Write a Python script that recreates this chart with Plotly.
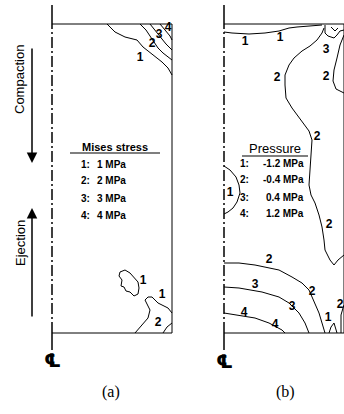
import plotly.graph_objects as go

FIG_W, FIG_H = 344, 414

# cavity dimensions (model units)
CAVITY_R = 120
CAVITY_H = 309
AXIS_EXT = [-17, 328]

# ---------------- Panel (a): Mises stress contours (r, z) ----------------
A1_TOP_R = [55, 63, 73, 85, 91, 101, 110, 116, 120]
A1_TOP_Z = [309, 301, 296, 293, 286, 278, 271, 265, 258]
A2_TOP_R = [88, 94, 98, 106, 111, 116, 120]
A2_TOP_Z = [309, 303, 297, 285, 280, 276, 273]
A3_TOP_R = [98, 103, 109, 114, 120]
A3_TOP_Z = [309, 303, 295, 289, 283]
A4_TOP_R = [108, 113, 118, 120]
A4_TOP_Z = [309, 303, 297, 293]
A1_ISL_R = [68, 73, 78, 82, 86, 87, 86, 82, 78, 74, 72, 69, 70, 67, 68]
A1_ISL_Z = [61, 63, 60, 55, 51, 45, 39, 37, 41, 42, 46, 47, 53, 57, 61]
A1_BOT_R = [83, 90, 96, 98, 95, 93, 96, 100, 103, 106, 110, 116, 120]
A1_BOT_Z = [0, 8, 15, 23, 29, 33, 36, 36, 33, 30, 28, 25, 20]
A2_BOT_R = [111, 115, 120]
A2_BOT_Z = [0, 6, 10]
A_LINES = [(A1_TOP_R, A1_TOP_Z), (A2_TOP_R, A2_TOP_Z), (A3_TOP_R, A3_TOP_Z),
           (A4_TOP_R, A4_TOP_Z), (A1_ISL_R, A1_ISL_Z), (A1_BOT_R, A1_BOT_Z),
           (A2_BOT_R, A2_BOT_Z)]
A_LABEL_TXT = ["1", "2", "3", "4", "1", "1", "2"]
A_LABEL_R = [88, 100, 107, 116, 91, 110, 106]
A_LABEL_Z = [275, 289, 298, 305, 52, 38, 10]

# ---------------- Panel (b): pressure contours (r, z) ----------------
B1_TOP_R = [0, 8, 25, 41, 55, 65, 73, 83, 98]
B1_TOP_Z = [301, 300, 299, 300, 302, 305, 306, 307, 308]
B2_BIG_R = [100, 98, 93, 86, 78, 70, 65, 61, 61, 62, 68, 78, 85, 88, 87, 86, 85,
            87, 91, 95, 98, 100, 101, 106, 110, 114, 120]
B2_BIG_Z = [305, 300, 293, 287, 282, 275, 268, 258, 248, 235, 225, 212, 202, 193,
            178, 163, 148, 138, 130, 118, 106, 93, 83, 73, 68, 73, 78]
B2_RT_R = [120, 116, 113, 110, 109, 112, 120]
B2_RT_Z = [298, 288, 275, 263, 252, 244, 240]
B3_TOP_R = [101, 101, 104, 110, 113, 116, 120]
B3_TOP_Z = [308, 300, 297, 295, 298, 302, 303]
B4_TOP_R = [107, 111, 114]
B4_TOP_Z = [306, 302, 305]
B1_ISL_R = [0, 6, 12, 15, 16, 13, 9, 4, 0]
B1_ISL_Z = [167, 163, 156, 148, 140, 131, 125, 121, 119]
B2_BOT_R = [0, 15, 31, 41, 55, 68, 78, 85, 91, 95, 98, 101]
B2_BOT_Z = [70, 70, 68, 66, 63, 56, 50, 43, 30, 20, 10, 0]
B3_BOT_R = [0, 15, 38, 55, 65, 75, 81, 85]
B3_BOT_Z = [46, 45, 41, 36, 30, 20, 10, 0]
B4_BOT_R = [0, 11, 31, 45, 58, 61]
B4_BOT_Z = [20, 18, 15, 10, 3, 0]
B1_ARC_R = [105, 107, 110, 111, 113]
B1_ARC_Z = [0, 6, 10, 6, 0]
B2_SML_R = [117, 117, 119, 120]
B2_SML_Z = [0, 18, 25, 28]
B_LINES = [(B1_TOP_R, B1_TOP_Z), (B2_BIG_R, B2_BIG_Z), (B2_RT_R, B2_RT_Z),
           (B3_TOP_R, B3_TOP_Z), (B4_TOP_R, B4_TOP_Z), (B1_ISL_R, B1_ISL_Z),
           (B2_BOT_R, B2_BOT_Z), (B3_BOT_R, B3_BOT_Z), (B4_BOT_R, B4_BOT_Z),
           (B1_ARC_R, B1_ARC_Z), (B2_SML_R, B2_SML_Z)]
B_LABEL_TXT = ["1", "1", "2", "2", "2", "2", "3", "1", "2", "2", "3", "3", "4", "4", "1", "2"]
B_LABEL_R = [21, 56, 53, 93, 105, 102, 102, 6, 45, 88, 31, 68, 20, 51, 104, 116]
B_LABEL_Z = [291, 295, 255, 196, 108, 256, 283, 140, 73, 41, 48, 26, 20, 8, 15, 28]

MISES_TITLE = "Mises stress"
MISES_LEVELS = ["1 MPa", "2 MPa", "3 MPa", "4 MPa"]
PRESSURE_TITLE = "Pressure"
PRESSURE_LEVELS = ["-1.2 MPa", "-0.4 MPa", "0.4 MPa", "1.2 MPa"]
PANEL_TAGS = ["(a)", "(b)"]


def px(x):
    return x / FIG_W


def py(y):
    return 1 - y / FIG_H


fig = go.Figure()
SANS = "Liberation Sans, Arial, sans-serif"
annotations = []


def add_panel(lines, lab_txt, lab_r, lab_z, xs, ys):
    # cavity outline
    fig.add_trace(go.Scatter(x=[0, CAVITY_R, CAVITY_R, 0], y=[CAVITY_H, CAVITY_H, 0, 0],
                             mode="lines", line=dict(color="black", width=1),
                             xaxis=xs, yaxis=ys, hoverinfo="skip"))
    # centre line
    fig.add_trace(go.Scatter(x=[0, 0], y=[CAVITY_H, AXIS_EXT[1]], mode="lines",
                             line=dict(color="black", width=1.5), xaxis=xs, yaxis=ys))
    fig.add_trace(go.Scatter(x=[0, 0], y=[AXIS_EXT[0], 0], mode="lines",
                             line=dict(color="black", width=1.5), xaxis=xs, yaxis=ys))
    fig.add_trace(go.Scatter(x=[0, 0], y=[0, CAVITY_H], mode="lines",
                             line=dict(color="black", width=1.5, dash="11px,3px,2px,3px"),
                             xaxis=xs, yaxis=ys))
    for r, z in lines:
        fig.add_trace(go.Scatter(x=r, y=z, mode="lines",
                                 line=dict(color="black", width=1),
                                 xaxis=xs, yaxis=ys, hoverinfo="skip"))
    fig.add_trace(go.Scatter(x=lab_r, y=lab_z, mode="text", text=lab_txt,
                             textfont=dict(family=SANS, size=12, color="black", weight="bold"),
                             textposition="middle center", xaxis=xs, yaxis=ys))


add_panel(A_LINES, A_LABEL_TXT, A_LABEL_R, A_LABEL_Z, "x", "y")
add_panel(B_LINES, B_LABEL_TXT, B_LABEL_R, B_LABEL_Z, "x2", "y2")


def ann(text, x, y, size=11, xanchor="center", family=SANS, angle=0, weight="normal"):
    annotations.append(dict(text=text, x=px(x), y=py(y), xref="paper", yref="paper",
                            showarrow=False, xanchor=xanchor, yanchor="middle",
                            textangle=angle,
                            font=dict(family=family, size=size, color="black", weight=weight)))


# legends
ann(MISES_TITLE, 115, 147, size=11, weight="bold")
ann(PRESSURE_TITLE, 275, 148, size=13)
for i, lv in enumerate(MISES_LEVELS):
    yy = 164 + 17 * i
    ann(f"{i + 1}:", 92, yy, size=10, xanchor="right", weight="bold")
    ann(lv, 128, yy, size=10, xanchor="right", weight="bold")
for i, lv in enumerate(PRESSURE_LEVELS):
    yy = 163 + 17 * i
    ann(f"{i + 1}:", 251, yy, size=10, xanchor="right", weight="bold")
    ann(lv, 306, yy, size=10, xanchor="right", weight="bold")

ann("Compaction", 20, 80, size=13, angle=-90)
ann("Ejection", 20, 243, size=13, angle=-90)
ann(PANEL_TAGS[0], 111, 392, size=16, family="Liberation Serif, serif")
ann(PANEL_TAGS[1], 285, 392, size=16, family="Liberation Serif, serif")
ann("\u2104", 52, 360, size=19, family="DejaVu Sans", weight="bold")
ann("\u2104", 224, 361, size=19, family="DejaVu Sans", weight="bold")

# arrows
annotations.append(dict(x=px(32), y=py(163), xref="paper", yref="paper", ax=0, ay=-116,
                        showarrow=True, arrowhead=2,
                        arrowsize=1.4, arrowwidth=1.5, arrowcolor="black", text=""))
annotations.append(dict(x=px(32), y=py(208), xref="paper", yref="paper", ax=0, ay=110,
                        showarrow=True, arrowhead=2,
                        arrowsize=1.4, arrowwidth=1.5, arrowcolor="black", text=""))

shapes = [
    dict(type="line", xref="paper", yref="paper", x0=px(70), x1=px(160), y0=py(153), y1=py(153),
         line=dict(color="black", width=1.2)),
    dict(type="line", xref="paper", yref="paper", x0=px(242), x1=px(308), y0=py(156), y1=py(156),
         line=dict(color="black", width=1.2)),
]

ydom = [1 - 350 / FIG_H, 1 - 5 / FIG_H]
fig.update_layout(
    template="none",
    width=FIG_W, height=FIG_H, margin=dict(l=0, r=0, t=0, b=0),
    paper_bgcolor="white", plot_bgcolor="white", showlegend=False,
    font=dict(color="black"),
    xaxis=dict(domain=[px(47), px(177)], range=[-5, 125], visible=False, fixedrange=True),
    yaxis=dict(domain=ydom, range=AXIS_EXT, visible=False, fixedrange=True),
    xaxis2=dict(domain=[px(219), 1], range=[-5, 120], visible=False, fixedrange=True, anchor="y2"),
    yaxis2=dict(domain=ydom, range=AXIS_EXT, visible=False, fixedrange=True, anchor="x2"),
    annotations=annotations, shapes=shapes,
)
fig.write_html("out.html")
